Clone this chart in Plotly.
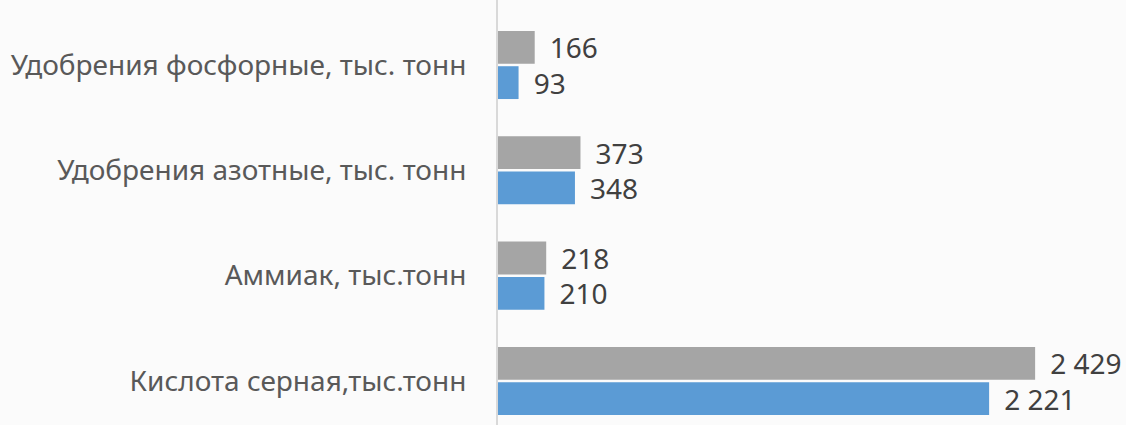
import plotly.graph_objects as go

categories = ["Кислота серная,тыс.тонн", "Аммиак, тыс.тонн",
              "Удобрения азотные, тыс. тонн", "Удобрения фосфорные, тыс. тонн"]
blue_values = [2221, 210, 348, 93]
gray_values = [2429, 218, 373, 166]

def fmt(v):
    return "\u2004\u200a" + f"{v:,}".replace(",", " ")

fig = go.Figure()
fig.add_trace(go.Bar(
    y=categories, x=blue_values, orientation="h", name="blue",
    marker=dict(color="#5b9bd5", line=dict(width=0)),
    text=[fmt(v) for v in blue_values], textposition="outside",
    constraintext="none",
    textfont=dict(size=28, color="#404040", family="Noto Sans"),
    cliponaxis=False,
))
fig.add_trace(go.Bar(
    y=categories, x=gray_values, orientation="h", name="gray",
    marker=dict(color="#a5a5a5", line=dict(width=0)),
    text=[fmt(v) for v in gray_values], textposition="outside",
    constraintext="none",
    textfont=dict(size=28, color="#404040", family="Noto Sans"),
    cliponaxis=False,
))

fig.update_layout(
    width=1126, height=425,
    barmode="group", bargap=0.33, bargroupgap=0.07,
    showlegend=False,
    uniformtext=dict(mode=False),
    paper_bgcolor="#fbfbfb", plot_bgcolor="rgba(0,0,0,0)",
    margin=dict(l=498, r=0, t=0, b=0),
    font=dict(family="Noto Sans"),
    xaxis=dict(range=[0, 2840], visible=False, showgrid=False, zeroline=False),
    yaxis=dict(range=[-0.418, 3.617], showline=True, linecolor="#d9d9d9", linewidth=2,
               ticks="", showgrid=False, automargin=False, ticklabelstandoff=24,
               tickfont=dict(size=28, color="#595959", family="Noto Sans")),
)
fig.write_html("out.html", config={"displayModeBar": False},
               post_script="document.body.style.margin='0';document.body.style.overflow='hidden';")
